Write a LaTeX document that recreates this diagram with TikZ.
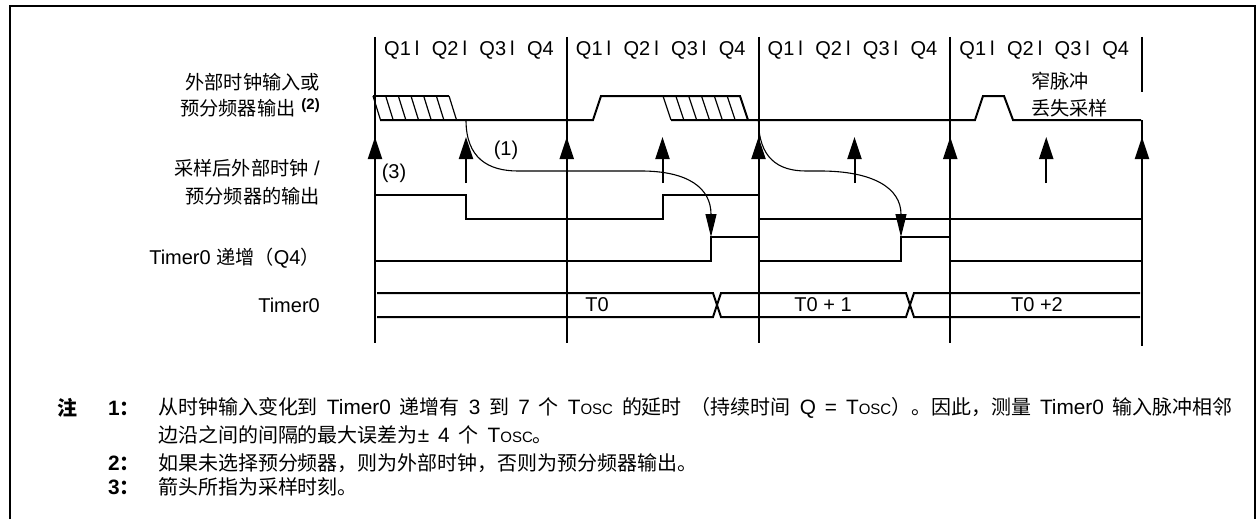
\documentclass[tikz,border=0pt]{standalone}
\usepackage{fontspec}
\setmainfont{Liberation Sans}
\newfontfamily\cjk[Scale=0.96]{Noto Sans CJK SC}
\usetikzlibrary{arrows.meta}
\newcommand\zh[1]{{\cjk #1}}
\newcommand\tosc{T\scalebox{0.72}{OSC}}
\newcommand\notefont{\fontsize{20.8}{24}\selectfont\spaceskip=9pt\relax}
\newcommand\qrow{Q1\hspace{4pt}l\hspace{12.5pt}Q2\hspace{4pt}l\hspace{12.5pt}Q3\hspace{4pt}l\hspace{12.5pt}Q4}

\begin{document}
\begin{tikzpicture}[x=1pt,y=-1pt,
    wave/.style={line width=2pt},
    hatchln/.style={line width=1.2pt},
    upar/.style={line width=2pt,-{Triangle[length=22pt,width=14pt]}},
    dnar/.style={line width=1.1pt,-{Triangle[length=23pt,width=11pt]}},
    lbl/.style={inner sep=0pt,font=\fontsize{20}{24}\selectfont},
    note/.style={inner sep=0pt,anchor=west,font=\notefont},
    notebf/.style={note,font=\notefont\bfseries}]
  \useasboundingbox (0,0) rectangle (1257,519);
  \draw[wave] (10,519) -- (10,6) -- (1255,6) -- (1255,519);

  % quarter cycles and sampling instants
  \foreach \x [count=\i] in {375,566.75,758.5,950.25} {
    \node[lbl,anchor=west] (q\i) at (\x+9,50) {\qrow};
    \draw[wave] (\x,37) -- (\x,343);
  }
  \draw[wave] (1142,37) -- (1142,92) (1142,120) -- (1142,346);
  \foreach \x in {375,566.75,758.5,950.25,1142} \draw[upar] (\x,170) -- (\x,137);
  \foreach \x in {466,662.5,854.5,1046.25} \draw[upar] (\x,183) -- (\x,137);

  % external clock / prescaler output
  \draw[wave] (373,96) -- (449,96);
  \draw[wave] (380,120) -- (593,120) -- (601,96) -- (740,96) -- (748,120);
  \draw[wave] (671,120) -- (975,120) -- (983,96) -- (1004,96) -- (1013,120) -- (1141,120);
  \foreach \k in {0,...,6} \draw[hatchln] ({373+12.67*\k},96) -- ++(7.5,24);
  \foreach \k in {0,...,6} \draw[hatchln] ({663+12.83*\k},96) -- ++(8,24);

  % delays
  \draw[dnar] (466,120) .. controls (466,158) and (488,171) .. (518,171) -- (641,171)
    .. controls (688,171) and (711,188) .. (711,237);
  \draw[dnar] (758.5,120) .. controls (758.5,158) and (778,171) .. (806,171) -- (820,171)
    .. controls (873,171) and (901,188) .. (901,237);

  % sampled, increment, timer
  \draw[wave] (375,195) -- (466,195) -- (466,219) -- (662.5,219) -- (662.5,195)
    -- (758.5,195) -- (758.5,219) -- (1142,219);
  \draw[wave] (375,261) -- (711,261) -- (711,237) -- (758.5,237) -- (758.5,261)
    -- (901,261) -- (901,237) -- (950.25,237) -- (950.25,261) -- (1142,261);
  \draw[wave] (377,293) -- (713,293) -- (721,317) -- (906,317) -- (914,293) -- (1140,293);
  \draw[wave] (377,317) -- (713,317) -- (721,293) -- (906,293) -- (914,317) -- (1140,317);

  \node[lbl,anchor=east] (extin) at (320,82) {\zh{外部时钟输入或}};
  \node[lbl,anchor=east] (presc) at (320,108) {\zh{预分频器输出}\hspace{6pt}\raisebox{6pt}{\bfseries\fontsize{15}{15}\selectfont(2)}};
  \node[lbl,anchor=east] (smpa) at (320,168) {\zh{采样后外部时钟} /};
  \node[lbl,anchor=east] (smpb) at (320,196) {\zh{预分频器的输出}};
  \node[lbl,anchor=east] (incr) at (320,258) {Timer0 \zh{递增（}Q4\zh{）}};
  \node[lbl,anchor=east] (tmr) at (320,305) {Timer0};
  \node[lbl,anchor=west] (narrowa) at (1031,81) {\zh{窄脉冲}};
  \node[lbl,anchor=west] (narrowb) at (1031,108) {\zh{丢失采样}};
  \node[lbl] (dly) at (506,150) {(1)};
  \node[lbl] (smpt) at (394,173) {(3)};
  \node[lbl] (cnt0) at (597,305) {T0};
  \node[lbl] (cnt1) at (823,305) {T0 + 1};
  \node[lbl] (cnt2) at (1037,305) {T0 +2};

  % notes
  \node[notebf] (notehd) at (57,408) {\zh{注}};
  \node[notebf] (nt1) at (108,408) {1\zh{：}};
  \node[note] (nt1a) at (158,408) {\zh{从时钟输入变化到} Timer0 \zh{递增有} 3 \zh{到} 7 \zh{个} \tosc{} \zh{的延时} \zh{（持续时间} Q = \tosc\zh{）。因此，测量} Timer0 \zh{输入脉冲相邻}};
  \node[note] (nt1b) at (158,435) {\zh{边沿之间的间隔的最大误差为}± 4 \zh{个} \tosc\zh{。}};
  \node[notebf] (nt2) at (108,463) {2\zh{：}};
  \node[note] (nt2a) at (158,463) {\zh{如果未选择预分频器，则为外部时钟，否则为预分频器输出。}};
  \node[notebf] (nt3) at (108,487) {3\zh{：}};
  \node[note] (nt3a) at (158,487) {\zh{箭头所指为采样时刻。}};
\end{tikzpicture}
\end{document}
